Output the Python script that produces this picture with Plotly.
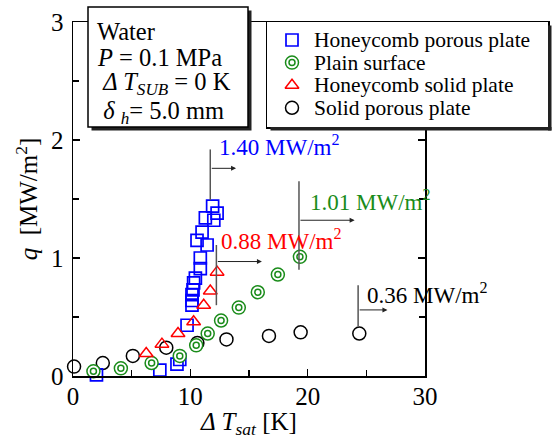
import plotly.graph_objects as go

# ---------------- data ----------------
series_names = ["Honeycomb porous plate", "Plain surface", "Honeycomb solid plate", "Solid porous plate"]

hp_T = [2.0, 7.4, 8.86, 9.1, 9.72, 10.14, 10.14, 10.14, 10.23, 10.28, 10.43, 10.85, 10.85, 11.43, 10.57, 11.0, 12.0, 11.28, 12.28, 11.9]
hp_q = [0.01, 0.05, 0.10, 0.14, 0.43, 0.60, 0.64, 0.69, 0.73, 0.79, 0.83, 0.91, 1.00, 1.11, 1.15, 1.22, 1.32, 1.34, 1.38, 1.44]

ps_T = [1.74, 4.08, 6.7, 9.1, 10.5, 11.48, 12.62, 14.13, 15.75, 17.46, 19.34]
ps_q = [0.04, 0.065, 0.11, 0.17, 0.26, 0.36, 0.47, 0.58, 0.71, 0.86, 1.01]

hs_T = [6.24, 7.58, 8.95, 10.28, 11.14, 11.7, 12.28]
hs_q = [0.19, 0.27, 0.36, 0.46, 0.60, 0.72, 0.88]

sp_T = [0.09, 2.54, 5.1, 7.95, 10.6, 13.08, 16.7, 19.4, 24.4]
sp_q = [0.08, 0.11, 0.17, 0.24, 0.28, 0.31, 0.34, 0.37, 0.36]

x_ticks = [0, 10, 20, 30]
y_ticks = [0, 1, 2, 3]

chf_labels = ["1.40 MW/m<sup>2</sup>", "1.01 MW/m<sup>2</sup>", "0.88 MW/m<sup>2</sup>", "0.36 MW/m<sup>2</sup>"]
chf_colors = ["#0000ff", "#1a8c1a", "#ff0000", "#000000"]
# layout positions of CHF markers (vertical line x, y0, y1, arrow y, arrow end x, label x, label y)
chf_line_x = [11.7, 19.26, 12.22, 24.3]
chf_line_y0 = [1.49, 0.90, 0.60, 0.42]
chf_line_y1 = [1.92, 1.65, 1.11, 0.77]
chf_arrow_y = [1.76, 1.32, 0.97, 0.56]
chf_arrow_x1 = [13.9, 24.0, 16.1, 26.8]
chf_label_x = [12.3, 20.0, 12.45, 24.9]
chf_label_y = [1.95, 1.49, 1.16, 0.70]

# ---------------- geometry ----------------
W, H = 554, 439
ML, MR, MT, MB = 73, 6, 22, 63
PW = W - ML - MR          # paper width
PH = H - MT - MB          # paper height
PLOT_RIGHT = 425          # pixel x of right edge of plot area


def px(xp):
    return (xp - ML) / PW


def py(yp):
    return (H - MB - yp) / PH


FONT = "Liberation Serif"
BLUE, GREEN, RED, BLACK = chf_colors

fig = go.Figure()

common = dict(mode="markers", cliponaxis=False, showlegend=False, hoverinfo="skip")

fig.add_trace(go.Scatter(x=sp_T, y=sp_q, marker=dict(symbol="circle-open", size=13, color=BLACK, line=dict(width=1.5, color=BLACK)), **common))
fig.add_trace(go.Scatter(x=hp_T, y=hp_q, marker=dict(symbol="square-open", size=12, color=BLUE, line=dict(width=1.7, color=BLUE)), **common))
fig.add_trace(go.Scatter(x=ps_T, y=ps_q, marker=dict(symbol="circle", size=13, color="white", line=dict(width=1.5, color=GREEN)), **common))
fig.add_trace(go.Scatter(x=ps_T, y=ps_q, marker=dict(symbol="circle-open", size=6, color=GREEN, line=dict(width=1.5, color=GREEN)), **common))
fig.add_trace(go.Scatter(x=hs_T, y=hs_q, marker=dict(symbol="triangle-up-open", size=12, color=RED, line=dict(width=1.5, color=RED)), **common))

# ---------------- key (legend) as an overlapping subplot ----------------
key_left, key_right, key_top, key_bottom = 267, 548, 22, 127
row0, pitch = 18, 22.6
rows = [row0 + i * pitch for i in range(len(series_names))]
key_common = dict(mode="markers", xaxis="x2", yaxis="y2", cliponaxis=False, showlegend=False, hoverinfo="skip")
fig.add_trace(go.Scatter(x=[0], y=[rows[0]], marker=dict(symbol="square-open", size=12, color=BLUE, line=dict(width=1.7, color=BLUE)), **key_common))
fig.add_trace(go.Scatter(x=[0], y=[rows[1]], marker=dict(symbol="circle", size=13, color="white", line=dict(width=1.5, color=GREEN)), **key_common))
fig.add_trace(go.Scatter(x=[0], y=[rows[1]], marker=dict(symbol="circle-open", size=6, color=GREEN, line=dict(width=1.5, color=GREEN)), **key_common))
fig.add_trace(go.Scatter(x=[0], y=[rows[2]], marker=dict(symbol="triangle-up-open", size=12, color=RED, line=dict(width=1.5, color=RED)), **key_common))
fig.add_trace(go.Scatter(x=[0], y=[rows[3]], marker=dict(symbol="circle-open", size=13, color=BLACK, line=dict(width=1.5, color=BLACK)), **key_common))

annotations = []
for name, r in zip(series_names, rows):
    annotations.append(dict(x=20, y=r, xref="x2", yref="y2", text=name, showarrow=False,
                            xanchor="left", yanchor="middle", font=dict(family=FONT, size=21.5, color="black")))

shapes = []
# key shadow strips
shapes.append(dict(type="rect", xref="paper", yref="paper", x0=px(key_right), x1=px(key_right + 3.5),
                   y0=py(key_bottom + 3.5), y1=py(key_top + 3.5), fillcolor="#222", line=dict(width=0), layer="above"))
shapes.append(dict(type="rect", xref="paper", yref="paper", x0=px(key_left + 3.5), x1=px(key_right + 3.5),
                   y0=py(key_bottom + 3.5), y1=py(key_bottom), fillcolor="#222", line=dict(width=0), layer="above"))

# ---------------- info box ----------------
ib_left, ib_right, ib_top, ib_bottom = 88, 248, 7, 127
shapes.append(dict(type="rect", xref="paper", yref="paper", x0=px(ib_left + 3.5), x1=px(ib_right + 3.5),
                   y0=py(ib_bottom + 3.5), y1=py(ib_top + 3.5), fillcolor="#222", line=dict(width=0), layer="above"))
shapes.append(dict(type="rect", xref="paper", yref="paper", x0=px(ib_left), x1=px(ib_right),
                   y0=py(ib_bottom), y1=py(ib_top), fillcolor="white", line=dict(width=1.5, color="black"), layer="above"))

info_lines = ["Water",
              "<i>P</i> = 0.1 MPa",
              " <i>Δ T</i><sub><i>SUB</i></sub> = 0 K",
              " <i>δ</i> <sub><i>h</i></sub>= 5.0 mm"]
info_y = [32, 58, 83, 112]
for t, yy in zip(info_lines, info_y):
    annotations.append(dict(x=px(95), y=py(yy), xref="paper", yref="paper", text=t, showarrow=False,
                            xanchor="left", yanchor="middle", align="left",
                            font=dict(family=FONT, size=24.5, color="black")))

# ---------------- CHF markers ----------------
for i in range(len(chf_labels)):
    shapes.append(dict(type="line", xref="x", yref="y", x0=chf_line_x[i], x1=chf_line_x[i],
                       y0=chf_line_y0[i], y1=chf_line_y1[i], line=dict(color="#555", width=1.5)))
    annotations.append(dict(x=chf_arrow_x1[i], y=chf_arrow_y[i], ax=chf_line_x[i], ay=chf_arrow_y[i],
                            xref="x", yref="y", axref="x", ayref="y", text="", showarrow=True,
                            arrowhead=2, arrowsize=1, arrowwidth=1, arrowcolor="#222", standoff=0, startstandoff=0))
    annotations.append(dict(x=chf_label_x[i], y=chf_label_y[i], xref="x", yref="y", text=chf_labels[i],
                            showarrow=False, xanchor="left", yanchor="middle",
                            font=dict(family=FONT, size=23, color=chf_colors[i])))

axis_common = dict(showline=True, linecolor="black", linewidth=1.5, mirror="ticks", ticks="inside",
                   tickcolor="black", tickwidth=1.2, ticklen=7, showgrid=False, zeroline=False,
                   automargin=False, tickfont=dict(family=FONT, size=25, color="black"))

fig.update_layout(
    width=W, height=H,
    margin=dict(l=ML, r=MR, t=MT, b=MB, pad=0, autoexpand=False),
    paper_bgcolor="white", plot_bgcolor="white",
    showlegend=False,
    font=dict(family=FONT, size=25, color="black"),
    xaxis=dict(domain=[0, (PLOT_RIGHT - ML) / PW], range=[0, 30], tickvals=x_ticks,
               minor=dict(dtick=5, ticks="inside", ticklen=6, tickcolor="black", tickwidth=1.2),
               ticklabelstandoff=-3,
               title=dict(text="<i>Δ T</i><sub><i>sat</i></sub> [K]", font=dict(family=FONT, size=25), standoff=0),
               **axis_common),
    yaxis=dict(domain=[0, 1], range=[0, 3], tickvals=y_ticks,
               minor=dict(dtick=0.5, ticks="inside", ticklen=6, tickcolor="black", tickwidth=1.2),
               ticklabelstandoff=3,
               title=dict(text="<i>q</i>  [MW/m<sup>2</sup>]", font=dict(family=FONT, size=25), standoff=6),
               **axis_common),
    xaxis2=dict(domain=[px(key_left), px(key_right)], range=[-25, key_right - key_left - 25],
                showline=True, mirror=True, linecolor="black", linewidth=1.5, showgrid=False,
                zeroline=False, showticklabels=False, ticks="", anchor="y2", fixedrange=True, automargin=False),
    yaxis2=dict(domain=[py(key_bottom), py(key_top)], range=[key_bottom - key_top, 0],
                showline=True, mirror=True, linecolor="black", linewidth=1.5, showgrid=False,
                zeroline=False, showticklabels=False, ticks="", anchor="x2", fixedrange=True, automargin=False),
    shapes=shapes,
    annotations=annotations,
)

# the page is photographed from its top-left corner: drop the browser's default body margin
fig.write_html("out.html", config={"displayModeBar": False, "staticPlot": True},
               post_script="document.body.style.margin='0';document.body.style.padding='0';")
